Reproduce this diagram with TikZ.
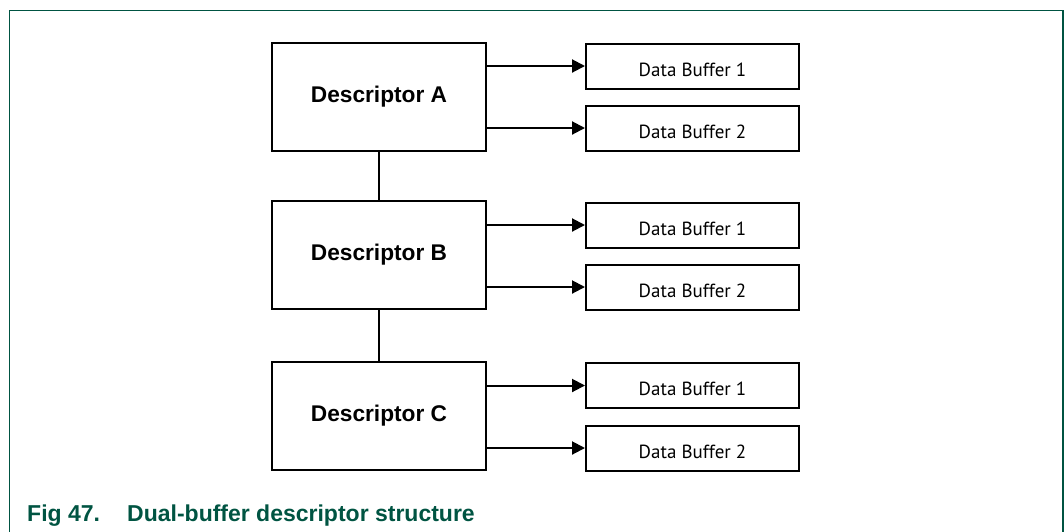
\documentclass[tikz,border=0pt]{standalone}
\usepackage{fontspec}
\setmainfont{Liberation Sans}
\newfontfamily\buffont{PT Sans}
\usetikzlibrary{arrows.meta}
\definecolor{nxpgreen}{RGB}{0,84,66}
\tikzset{
  desc/.style={draw=black, line width=2pt, minimum width=214pt, minimum height=108pt, inner sep=0pt, font=\bfseries\fontsize{22.7}{24}\selectfont},
  buf/.style={draw=black, line width=2pt, minimum width=213pt, minimum height=45pt, inner sep=0pt, text height=20pt, text depth=0pt, font=\buffont\fontsize{19}{21}\selectfont},
  ptr/.style={line width=2pt, -{Triangle[length=13pt,width=13pt]}},
  link/.style={line width=2pt},
  frame/.style={draw=nxpgreen, line width=1.2pt},
  capt/.style={anchor=base west, inner sep=0pt, text=nxpgreen, font=\bfseries\fontsize{23}{25}\selectfont}
}
\begin{document}
\begin{tikzpicture}[x=1pt,y=-1pt]
\useasboundingbox (0,0) rectangle (1064,531);
\draw[frame] (9.5,540) -- (9.5,10.5) -- (1063,10.5) -- (1063,540);
% descriptors
\node[desc] (A) at (379,97) {Descriptor A\hspace{20pt}};
\node[desc] (B) at (379,255) {Descriptor B\hspace{20pt}};
\node[desc] (C) at (379,416) {Descriptor C\hspace{20pt}};
% buffers
\node[buf] (A1) at (692.5,66) {Data Buffer 1\hspace{12pt}};
\node[buf] (A2) at (692.5,128) {Data Buffer 2\hspace{12pt}};
\node[buf] (B1) at (692.5,225) {Data Buffer 1\hspace{12pt}};
\node[buf] (B2) at (692.5,287) {Data Buffer 2\hspace{12pt}};
\node[buf] (C1) at (692.5,385.5) {Data Buffer 1\hspace{12pt}};
\node[buf] (C2) at (692.5,448) {Data Buffer 2\hspace{12pt}};
% links
\draw[link] (A.south) -- (B.north);
\draw[link] (B.south) -- (C.north);
% pointers
\draw[ptr] (A.east |- A1.west) -- (A1.west);
\draw[ptr] (A.east |- A2.west) -- (A2.west);
\draw[ptr] (B.east |- B1.west) -- (B1.west);
\draw[ptr] (B.east |- B2.west) -- (B2.west);
\draw[ptr] (C.east |- C1.west) -- (C1.west);
\draw[ptr] (C.east |- C2.west) -- (C2.west);
% caption
\node[capt] (capnum) at (27,521.5) {Fig 47.};
\node[capt] (captext) at (127,521.5) {Dual-buffer descriptor structure};
\end{tikzpicture}
\end{document}
